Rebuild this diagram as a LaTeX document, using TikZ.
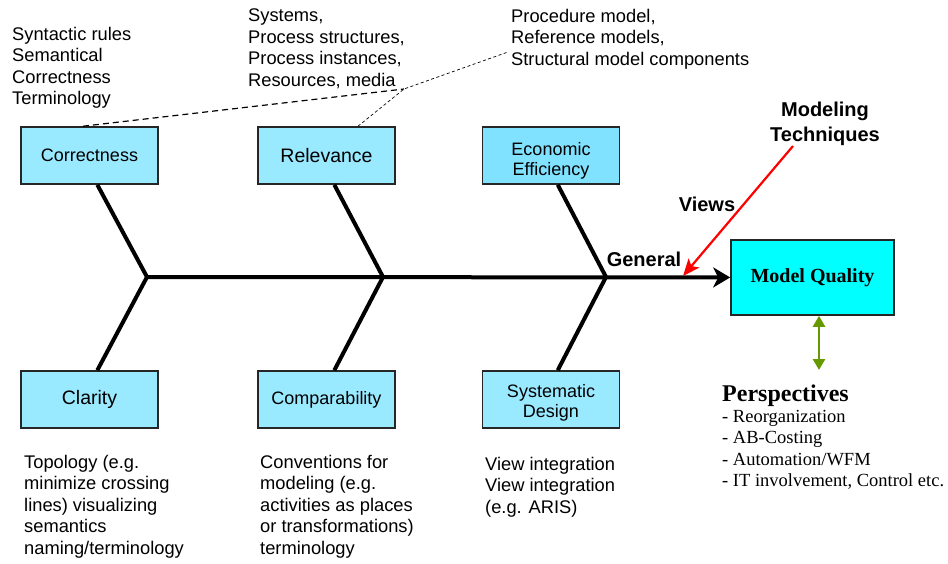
\documentclass[tikz,border=0pt]{standalone}
\usepackage{fontspec}
\setmainfont{Liberation Sans}
\newfontfamily\timesfont{Liberation Serif}
\usepackage{tikz}
\usetikzlibrary{arrows,arrows.meta}

\definecolor{boxblue}{RGB}{153,233,255}
\definecolor{boxblue2}{RGB}{128,226,255}
\definecolor{aqua}{RGB}{0,255,255}
\definecolor{leafgreen}{RGB}{102,153,0}

\begin{document}
\begin{tikzpicture}[x=1pt,y=-1pt,node distance=244pt,
  box/.style={draw=black!85,line width=1.6pt,fill=boxblue,minimum width=137pt,minimum height=57pt,inner sep=0pt,align=center,font=\fontsize{18}{20}\selectfont},
  note/.style={anchor=north west,inner sep=0pt,align=left,font=\fontsize{18.3}{21.5}\selectfont},
  bone/.style={line width=4pt},
  lbl/.style={inner sep=0pt,align=center,font=\fontsize{20}{25}\selectfont\bfseries}]
\useasboundingbox (0,0) rectangle (948,563);

\node[box]          (top_1) at (89.5,155.5)  {Correctness};
\node[box,font=\fontsize{19.5}{22}\selectfont] (top_2) at (326.5,155.5) {Relevance};
\node[box,fill=boxblue2] (top_3) at (551,155.5) {\raisebox{-5pt}[\height][\depth]{\shortstack{Economic\\[4pt]Efficiency}}};
\node[box,font=\fontsize{19.5}{22}\selectfont] (bot_1) [below of=top_1] {Clarity};
\node[box]          (bot_2) [below of=top_2] {Comparability};
\node[box]          (bot_3) [below of=top_3] {\raisebox{-3.5pt}[\height][\depth]{\shortstack{Systematic\\[0pt]Design}}};
\node[box,fill=aqua,minimum width=163pt,minimum height=75pt,font=\timesfont\fontsize{20}{24}\selectfont\bfseries] (mq) at (812.5,277.5) {Model Quality};

\coordinate (j_1) at (147,277);
\coordinate (j_2) at (383,277);
\coordinate (j_3) at (606,277);

% the fish
\draw[bone] (top_1.-75) -- (j_1) -- (bot_1.75);
\draw[bone] (top_2.-75) -- (j_2) -- (bot_2.75);
\draw[bone] (top_3.-77) -- (j_3) -- (bot_3.77);
\draw[bone,-{Stealth[length=17pt,width=20pt,inset=5pt]}] (j_1) -- (mq);

\node[note] (t_1) at (12,27)  {Syntactic rules\\Semantical\\Correctness\\Terminology};
\node[note] (t_2) at (248,9)  {Systems,\\Process structures,\\Process instances,\\Resources, media};
\node[note] (t_3) at (511,9)  {Procedure model,\\Reference models,\\Structural model components};
\node[note] (b_1) at (24,455) {Topology (e.g.\\minimize crossing\\lines) visualizing\\semantics\\naming/terminology};
\node[note] (b_2) at (260,455) {Conventions for\\modeling (e.g.\\activities as places\\or transformations)\\terminology};
\node[note] (b_3) at (485,457) {View integration\\View integration\\(e.g. ARIS)};

\coordinate (d_1) at (404,89);
\coordinate (d_2) at (508,52);
\draw[line width=1.2pt,dash pattern=on 6pt off 4pt] ([xshift=-6.5pt]top_1.north) -- (d_1);
\draw[line width=0.7pt,dash pattern=on 3pt off 2.5pt] ([xshift=31.5pt]top_2.north) -- (d_1) -- (d_2);

\node[lbl] (mt)    at (825,124) {Modeling\\Techniques};
\node[lbl] (views) at (707,204) {Views};
\node[lbl] (gen)   at (644,259) {General};

\coordinate (v_1) at (683,276);
\draw[red,line width=2.2pt,-{Stealth[length=17pt,width=14pt,inset=4pt]}] ([xshift=-32pt]mt.south) -- (v_1);

\coordinate (p_1) at (819,370);
\draw[leafgreen,line width=2.5pt,{Triangle[length=11pt,width=12pt]}-{Triangle[length=11pt,width=12pt]}] ([xshift=6.5pt]mq.south) -- (p_1);

\node[anchor=north west,inner sep=0pt,font=\timesfont\fontsize{24}{28}\selectfont\bfseries] (persp) at (722,385) {Perspectives};
\node[note,font=\timesfont\fontsize{18.5}{21.5}\selectfont] (p_list) at (722,410) {- Reorganization\\- AB-Costing\\- Automation/WFM\\- IT involvement, Control etc.};
\end{tikzpicture}
\end{document}
